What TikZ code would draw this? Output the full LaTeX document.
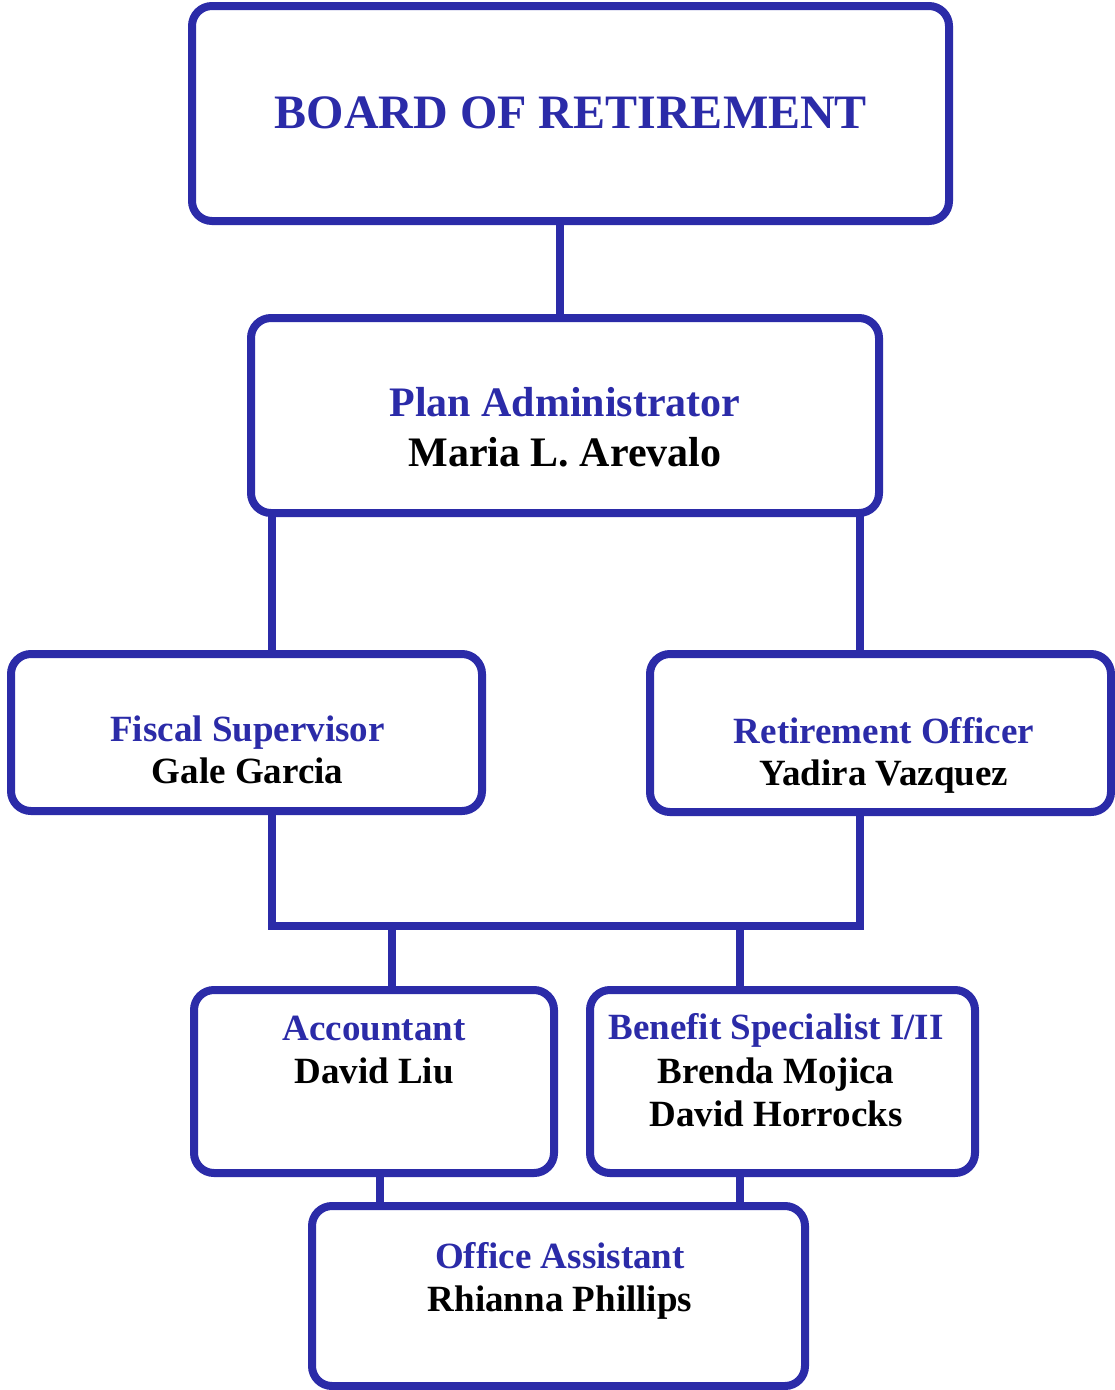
\documentclass[tikz,border=0pt]{standalone}
\usepackage{fontspec}
\setmainfont{Liberation Serif}
\definecolor{orgblue}{RGB}{43,43,168}
\begin{document}
\begin{tikzpicture}[x=1pt,y=-1pt,
  box/.style={draw=orgblue, line width=8pt, rounded corners=20pt, inner sep=0pt, outer sep=0pt},
  link/.style={draw=orgblue, line width=8pt},
  ttl/.style={font=\bfseries\fontsize{37}{42}\selectfont, text=orgblue, anchor=base, inner sep=0pt},
  nm/.style={font=\bfseries\fontsize{37}{42}\selectfont, text=black, anchor=base, inner sep=0pt},
  bigttl/.style={ttl, font=\bfseries\fontsize{48}{56}\selectfont},
  midttl/.style={ttl, font=\bfseries\fontsize{42}{48}\selectfont},
  midnm/.style={nm, font=\bfseries\fontsize{42}{48}\selectfont}]
\useasboundingbox (0,0) rectangle (1115,1390);
% boxes
\node[box, minimum width=757pt, minimum height=215pt] (board) at (570.5,113.5) {};
\node[box, minimum width=628pt, minimum height=195pt] (plan) at (565,415.5) {};
\node[box, minimum width=471pt, minimum height=157pt] (fiscal) at (246.5,732.5) {};
\node[box, minimum width=461pt, minimum height=158pt] (retire) at (880.5,733) {};
\node[box, minimum width=360pt, minimum height=183pt] (acct) at (374,1081.5) {};
\node[box, minimum width=385pt, minimum height=183pt] (benefit) at (782.5,1081.5) {};
\node[box, minimum width=493pt, minimum height=180pt] (office) at (558.5,1296) {};
% connector guides
\coordinate (xa) at (560,0);
\coordinate (xl) at (272,0);
\coordinate (xr) at (860,0);
\coordinate (bus) at (0,926);
\coordinate (xac) at (392,0);
\coordinate (xbe) at (740,0);
\coordinate (xo) at (380,0);
% connectors
\draw[link] (xa |- board.south) -- (xa |- plan.north);
\draw[link] (xl |- plan.south) -- (xl |- fiscal.north);
\draw[link] (xr |- plan.south) -- (xr |- retire.north);
\draw[link] (xl |- fiscal.south) -- (xl |- bus) -- (xr |- bus) -- (xr |- retire.south);
\draw[link] (xac |- bus) -- (xac |- acct.north);
\draw[link] (xbe |- bus) -- (xbe |- benefit.north);
\draw[link] (xo |- acct.south) -- (xo |- office.north);
\draw[link] (xbe |- benefit.south) -- (xbe |- office.north);
% texts
\node[bigttl] (t1) at (571,128) {BOARD OF RETIREMENT};
\node[midttl] (t2) at (565,416) {Plan Administrator};
\node[midnm] (n2) at (565,466) {Maria L. Arevalo};
\node[ttl] (t3) at (247.5,741) {Fiscal Supervisor};
\node[nm] (n3) at (247.5,783) {Gale Garcia};
\node[ttl] (t4) at (884,743) {Retirement Officer};
\node[nm] (n4) at (884,785) {Yadira Vazquez};
\node[ttl] (t5) at (374,1040) {Accountant};
\node[nm] (n5) at (374,1083) {David Liu};
\node[ttl] (t6) at (776,1039) {Benefit Specialist I/II};
\node[nm] (n6a) at (776,1083) {Brenda Mojica};
\node[nm] (n6b) at (776,1126) {David Horrocks};
\node[ttl] (t7) at (560,1268) {Office Assistant};
\node[nm] (n7) at (560,1311) {Rhianna Phillips};
\end{tikzpicture}
\end{document}
